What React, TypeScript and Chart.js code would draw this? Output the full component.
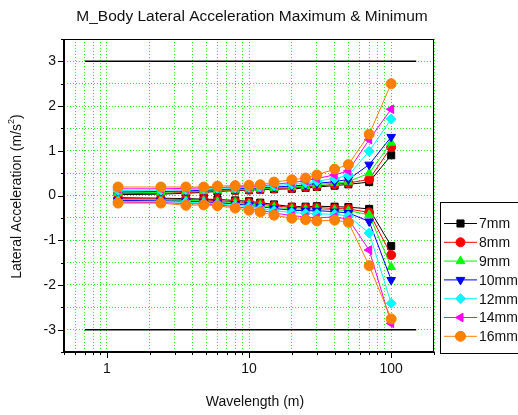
import React, { useEffect, useRef } from 'react';
import { Chart, registerables } from 'chart.js';

Chart.register(...registerables);

// ---- data ----
const wavelengths = [1.2, 2.4, 3.6, 4.8, 6, 8, 10, 12, 15, 20, 25, 30, 40, 50, 70, 100];
const seriesNames = ['7mm', '8mm', '9mm', '10mm', '12mm', '14mm', '16mm'];

const max7mm = [0.02, 0.03, 0.05, 0.07, 0.09, 0.11, 0.12, 0.13, 0.14, 0.15, 0.17, 0.19, 0.22, 0.25, 0.30, 0.90];
const max8mm = [0.04, 0.05, 0.07, 0.09, 0.11, 0.12, 0.13, 0.14, 0.16, 0.17, 0.19, 0.21, 0.25, 0.28, 0.36, 1.08];
const max9mm = [0.06, 0.07, 0.09, 0.10, 0.12, 0.13, 0.14, 0.15, 0.17, 0.19, 0.21, 0.24, 0.28, 0.31, 0.50, 1.18];
const max10mm = [0.08, 0.09, 0.10, 0.12, 0.13, 0.15, 0.16, 0.17, 0.19, 0.21, 0.24, 0.27, 0.31, 0.36, 0.69, 1.31];
const max12mm = [0.11, 0.12, 0.13, 0.14, 0.16, 0.17, 0.18, 0.19, 0.22, 0.25, 0.28, 0.32, 0.38, 0.45, 0.99, 1.71];
const max14mm = [0.15, 0.15, 0.16, 0.17, 0.18, 0.19, 0.20, 0.21, 0.25, 0.29, 0.33, 0.38, 0.46, 0.55, 1.25, 1.93];
const max16mm = [0.19, 0.19, 0.19, 0.19, 0.21, 0.22, 0.23, 0.24, 0.30, 0.35, 0.39, 0.46, 0.59, 0.69, 1.37, 2.50];

const min7mm = [-0.05, -0.06, -0.07, -0.08, -0.09, -0.11, -0.13, -0.16, -0.20, -0.25, -0.25, -0.24, -0.25, -0.26, -0.30, -1.13];
const min8mm = [-0.07, -0.08, -0.09, -0.10, -0.12, -0.14, -0.16, -0.19, -0.23, -0.27, -0.28, -0.27, -0.29, -0.30, -0.38, -1.33];
const min9mm = [-0.09, -0.10, -0.11, -0.12, -0.14, -0.16, -0.19, -0.22, -0.26, -0.30, -0.31, -0.30, -0.32, -0.34, -0.43, -1.60];
const min10mm = [-0.11, -0.12, -0.13, -0.14, -0.16, -0.19, -0.22, -0.25, -0.29, -0.33, -0.34, -0.34, -0.36, -0.39, -0.58, -1.89];
const min12mm = [-0.13, -0.14, -0.15, -0.17, -0.19, -0.22, -0.25, -0.29, -0.34, -0.38, -0.40, -0.41, -0.42, -0.46, -0.84, -2.41];
const min14mm = [-0.15, -0.16, -0.18, -0.19, -0.21, -0.25, -0.29, -0.33, -0.39, -0.45, -0.48, -0.50, -0.48, -0.53, -1.22, -2.86];
const min16mm = [-0.17, -0.17, -0.22, -0.21, -0.23, -0.28, -0.33, -0.37, -0.44, -0.51, -0.54, -0.57, -0.55, -0.60, -1.57, -2.76];

const maxSeries = [max7mm, max8mm, max9mm, max10mm, max12mm, max14mm, max16mm];
const minSeries = [min7mm, min8mm, min9mm, min10mm, min12mm, min14mm, min16mm];

const limitUpper = 3;
const limitLower = -3;
const limitRange = [0.7, 150];

const xGridValues = [0.5, 0.6, 0.7, 0.8, 0.9, 1, 2, 3, 4, 5, 6, 7, 8, 9, 10, 20, 30, 40, 50, 60, 70, 80, 90, 100, 200];
const xTickLabels = [1, 10, 100];
const yTickValues = [-3.5, -3, -2.5, -2, -1.5, -1, -0.5, 0, 0.5, 1, 1.5, 2, 2.5, 3, 3.5];

const titleText = 'M_Body Lateral Acceleration Maximum & Minimum';
const xTitle = 'Wavelength (m)';
const yTitleMain = 'Lateral Acceleration (m/s';
const yTitleSup = '2';
const yTitleEnd = ')';

// ---- styles ----
const colors = ['#000000', '#ff0000', '#00ff00', '#0000ff', '#00ffff', '#ff00ff', '#ff8000'];
const pointStyles = ['rect', 'circle', 'triangle', 'triangle', 'rectRot', 'triangle', 'circle'];
const rotations = [0, 0, 0, 180, 0, 270, 0];
const radii = [5, 4.5, 5, 5, 5, 5, 5];
const FONT = '"Liberation Sans", Arial, sans-serif';

function drawMarker(ctx: CanvasRenderingContext2D, style: string, rot: number, r: number, x: number, y: number, color: string) {
  ctx.save();
  ctx.fillStyle = color;
  ctx.strokeStyle = color;
  ctx.lineWidth = 1;
  ctx.beginPath();
  if (style === 'circle') {
    ctx.arc(x, y, r, 0, Math.PI * 2);
  } else if (style === 'rect') {
    const s = r * Math.SQRT1_2;
    ctx.rect(x - s, y - s, 2 * s, 2 * s);
  } else if (style === 'rectRot') {
    ctx.moveTo(x - r, y);
    ctx.lineTo(x, y - r);
    ctx.lineTo(x + r, y);
    ctx.lineTo(x, y + r);
    ctx.closePath();
  } else if (style === 'triangle') {
    let rad = (rot * Math.PI) / 180;
    ctx.moveTo(x + Math.sin(rad) * r, y - Math.cos(rad) * r);
    rad += (2 * Math.PI) / 3;
    ctx.lineTo(x + Math.sin(rad) * r, y - Math.cos(rad) * r);
    rad += (2 * Math.PI) / 3;
    ctx.lineTo(x + Math.sin(rad) * r, y - Math.cos(rad) * r);
    ctx.closePath();
  }
  ctx.fill();
  ctx.stroke();
  ctx.restore();
}

const decorPlugin = {
  id: 'decor',
  afterDraw(chart: any) {
    const ctx: CanvasRenderingContext2D = chart.ctx;
    const { left, right, top, bottom } = chart.chartArea;
    const xs = chart.scales.x;
    const ys = chart.scales.y;
    ctx.save();

    // frame
    ctx.strokeStyle = '#000';
    ctx.lineWidth = 1;
    ctx.strokeRect(left + 0.5, top + 0.5, right - left - 1, bottom - top - 1);
    ctx.lineWidth = 2;
    ctx.beginPath();
    ctx.moveTo(left, top);
    ctx.lineTo(left, bottom);
    ctx.lineTo(right, bottom);
    ctx.stroke();

    // tick marks
    ctx.lineWidth = 1;
    ctx.beginPath();
    xGridValues.forEach((v) => {
      const px = Math.round(xs.getPixelForValue(v)) + 0.5;
      const len = xTickLabels.includes(v) ? 6 : 3;
      ctx.moveTo(px, bottom);
      ctx.lineTo(px, bottom + len);
    });
    yTickValues.forEach((v) => {
      const py = Math.round(ys.getPixelForValue(v)) + 0.5;
      const len = Number.isInteger(v) ? 6 : 3;
      ctx.moveTo(left, py);
      ctx.lineTo(left - len, py);
    });
    ctx.stroke();

    // title
    ctx.fillStyle = '#111';
    ctx.font = `15.5px ${FONT}`;
    ctx.textAlign = 'center';
    ctx.textBaseline = 'middle';
    ctx.fillText(titleText, (left + right) / 2 + 3, 17);

    // x title
    ctx.font = `14px ${FONT}`;
    ctx.fillText(xTitle, 255, 402);

    // y title with superscript
    ctx.save();
    ctx.translate(17, (top + bottom) / 2 + 1);
    ctx.rotate(-Math.PI / 2);
    ctx.textAlign = 'left';
    ctx.font = `14px ${FONT}`;
    const w1 = ctx.measureText(yTitleMain).width;
    const w3 = ctx.measureText(yTitleEnd).width;
    ctx.font = `9px ${FONT}`;
    const w2 = ctx.measureText(yTitleSup).width;
    const start = -(w1 + w2 + w3) / 2;
    ctx.font = `14px ${FONT}`;
    ctx.fillText(yTitleMain, start, 0);
    ctx.font = `9px ${FONT}`;
    ctx.fillText(yTitleSup, start + w1, -5);
    ctx.font = `14px ${FONT}`;
    ctx.fillText(yTitleEnd, start + w1 + w2, 0);
    ctx.restore();

    // legend
    ctx.strokeStyle = '#000';
    ctx.lineWidth = 1;
    ctx.strokeRect(440.5, 202.5, 100, 151);
    ctx.font = `14px ${FONT}`;
    ctx.textAlign = 'left';
    ctx.textBaseline = 'middle';
    seriesNames.forEach((name, i) => {
      const cy = 223.5 + i * 18.8;
      ctx.strokeStyle = colors[i];
      ctx.lineWidth = 1;
      ctx.beginPath();
      ctx.moveTo(444, cy);
      ctx.lineTo(477, cy);
      ctx.stroke();
      drawMarker(ctx, pointStyles[i], rotations[i], radii[i], 460.5, cy, colors[i]);
      ctx.fillStyle = '#111';
      ctx.fillText(name, 479, cy + 1);
    });

    ctx.restore();
  },
};

export default function App() {
  const canvasRef = useRef<HTMLCanvasElement | null>(null);

  useEffect(() => {
    if (!canvasRef.current) return;
    const datasets: any[] = [];
    seriesNames.forEach((name, i) => {
      const common = {
        borderColor: colors[i],
        backgroundColor: colors[i],
        borderWidth: 1,
        pointStyle: pointStyles[i],
        rotation: rotations[i],
        pointRadius: radii[i],
        pointBorderWidth: 1,
        order: 10 - i,
        tension: 0,
      };
      datasets.push({
        ...common,
        label: name,
        data: wavelengths.map((x, k) => ({ x, y: maxSeries[i][k] })),
      });
      datasets.push({
        ...common,
        label: name + ' min',
        data: wavelengths.map((x, k) => ({ x, y: minSeries[i][k] })),
      });
    });
    [limitUpper, limitLower].forEach((v) => {
      datasets.push({
        label: 'limit',
        data: limitRange.map((x) => ({ x, y: v })),
        borderColor: '#000',
        borderWidth: 1.5,
        pointRadius: 0,
        order: 20,
      });
    });

    const chart = new Chart(canvasRef.current, {
      type: 'line',
      data: { datasets },
      options: {
        animation: false,
        responsive: false,
        events: [],
        layout: { padding: { top: 39, right: 84, left: 0, bottom: 0 } },
        plugins: {
          legend: { display: false },
          title: { display: false },
          tooltip: { enabled: false },
        },
        scales: {
          x: {
            type: 'logarithmic',
            min: 0.5,
            max: 200,
            afterBuildTicks: (scale: any) => {
              scale.ticks = xGridValues.map((v) => ({ value: v }));
            },
            afterFit: (scale: any) => {
              scale.height = 63;
            },
            ticks: {
              autoSkip: false,
              maxRotation: 0,
              minRotation: 0,
              padding: 9,
              color: '#111',
              font: { family: FONT, size: 14 },
              callback: (value: any) => (xTickLabels.includes(Number(value)) ? String(value) : ''),
            },
            grid: { color: '#22ee22', lineWidth: 1, drawTicks: false },
            border: { display: false, dash: [1, 2] },
          },
          y: {
            type: 'linear',
            min: -3.5,
            max: 3.5,
            afterBuildTicks: (scale: any) => {
              scale.ticks = yTickValues.map((v) => ({ value: v }));
            },
            afterFit: (scale: any) => {
              scale.width = 64;
            },
            ticks: {
              autoSkip: false,
              padding: 8,
              color: '#111',
              font: { family: FONT, size: 14 },
              callback: (value: any) => (Number.isInteger(Number(value)) ? String(value) : ''),
            },
            grid: { color: '#22ee22', lineWidth: 1, drawTicks: false },
            border: { display: false, dash: [1, 2] },
          },
        },
      },
      plugins: [decorPlugin],
    });
    return () => chart.destroy();
  }, []);

  return (
    <div style={{ position: 'absolute', left: 0, top: 0, width: 518, height: 415, background: '#fff' }}>
      <canvas ref={canvasRef} width={518} height={415} />
    </div>
  );
}
